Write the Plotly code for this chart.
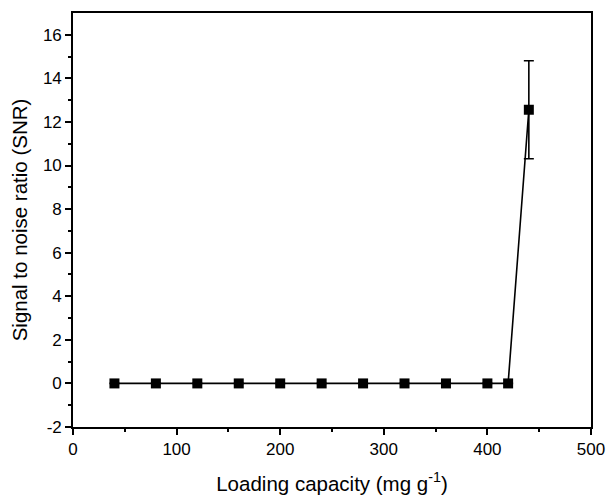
import plotly.graph_objects as go

loading = [40, 80, 120, 160, 200, 240, 280, 320, 360, 400, 420, 440]
snr = [0, 0, 0, 0, 0, 0, 0, 0, 0, 0, 0, 12.56]
snr_err = [0, 0, 0, 0, 0, 0, 0, 0, 0, 0, 0, 2.25]
x_ticks = [0, 100, 200, 300, 400, 500]
y_ticks = [-2, 0, 2, 4, 6, 8, 10, 12, 14, 16]

fig = go.Figure()
fig.add_trace(go.Scatter(
    x=loading, y=snr, mode="lines+markers",
    line=dict(color="black", width=1.6),
    marker=dict(symbol="square", size=10, color="black"),
    error_y=dict(type="data", array=snr_err, visible=True, color="black", thickness=1.6, width=5),
    showlegend=False,
))

fam = "Liberation Sans, Arial, sans-serif"
tick_font = dict(family=fam, size=17, color="black")
title_font = dict(family=fam, size=20.5, color="black")
axis_common = dict(
    showline=True, linecolor="black", linewidth=1.6, mirror=True,
    ticks="outside", ticklen=6, tickwidth=1.6, tickcolor="black",
    showgrid=False, zeroline=False, tickfont=tick_font, automargin=False,
)
fig.update_xaxes(range=[0, 500], tickvals=x_ticks, ticktext=[str(v) for v in x_ticks],
                 minor=dict(ticks="outside", ticklen=3, tickwidth=1.6, tickcolor="black", dtick=50),
                 title=dict(text="Loading capacity (mg g<sup>-1</sup>)", font=title_font, standoff=18),
                 **axis_common)
fig.update_yaxes(range=[-2, 17], tickvals=y_ticks, ticktext=[str(v) for v in y_ticks],
                 minor=dict(ticks="outside", ticklen=3, tickwidth=1.6, tickcolor="black",
                            tickvals=[-1, 1, 3, 5, 7, 9, 11, 13, 15]),
                 title=dict(text="Signal to noise ratio (SNR)", font=title_font, standoff=10),
                 **axis_common)
fig.update_layout(
    width=609, height=503,
    margin=dict(l=73, r=18, t=13, b=76),
    plot_bgcolor="white", paper_bgcolor="white",
    font=tick_font,
)
fig.write_html("out.html", config={"displayModeBar": False},
               post_script="document.body.style.margin='0';")
